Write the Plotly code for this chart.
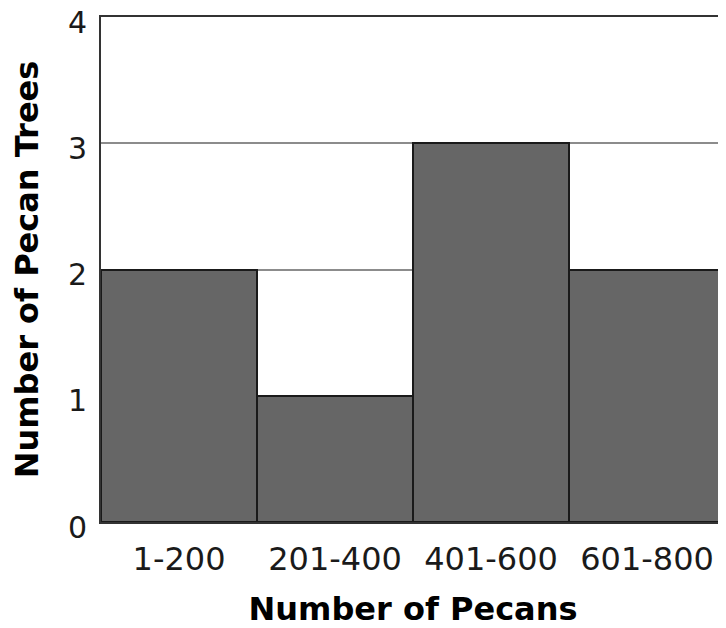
import plotly.graph_objects as go

categories = ["1-200", "201-400", "401-600", "601-800"]
tree_counts = [2, 1, 3, 2]
y_ticks = [0, 1, 2, 3, 4]

x_title = "Number of Pecans"
y_title = "Number of Pecan Trees"

fig = go.Figure()
fig.add_trace(go.Bar(
    x=categories,
    y=tree_counts,
    marker=dict(color="#666666", line=dict(color="#1a1a1a", width=2)),
    hoverinfo="x+y",
))

font_family = "DejaVu Sans, Verdana, sans-serif"

# The page body has an 8px default margin, so the figure is sized to the visible area.
fig.update_layout(
    width=718,
    height=620,
    margin=dict(l=93, r=1, t=9, b=106, autoexpand=False),
    paper_bgcolor="white",
    plot_bgcolor="white",
    bargap=0,
    showlegend=False,
    font=dict(family=font_family, color="#1a1a1a"),
)

fig.update_xaxes(
    automargin=False,
    showline=True, linecolor="#333333", linewidth=2, mirror=True,
    showgrid=False,
    tickfont=dict(size=32, family=font_family, color="#1a1a1a"),
    ticks="", ticklabelstandoff=8,
    title=dict(text=x_title, font=dict(size=32, family=font_family, color="#000000", weight="bold"), standoff=22),
)
fig.update_yaxes(
    automargin=False,
    range=[0, 4],
    tickmode="array",
    tickvals=y_ticks,
    ticktext=[str(v) for v in y_ticks],
    ticklabeloverflow="allow",
    ticklabelshift=5,
    showline=True, linecolor="#333333", linewidth=2, mirror=True,
    showgrid=True, gridcolor="#8c8c8c", gridwidth=2,
    zeroline=False,
    tickfont=dict(size=30, family=font_family, color="#1a1a1a"),
    ticks="", ticklabelstandoff=6,
    title=dict(text=y_title, font=dict(size=32, family=font_family, color="#000000", weight="bold"), standoff=24),
)

fig.write_html("out.html")
